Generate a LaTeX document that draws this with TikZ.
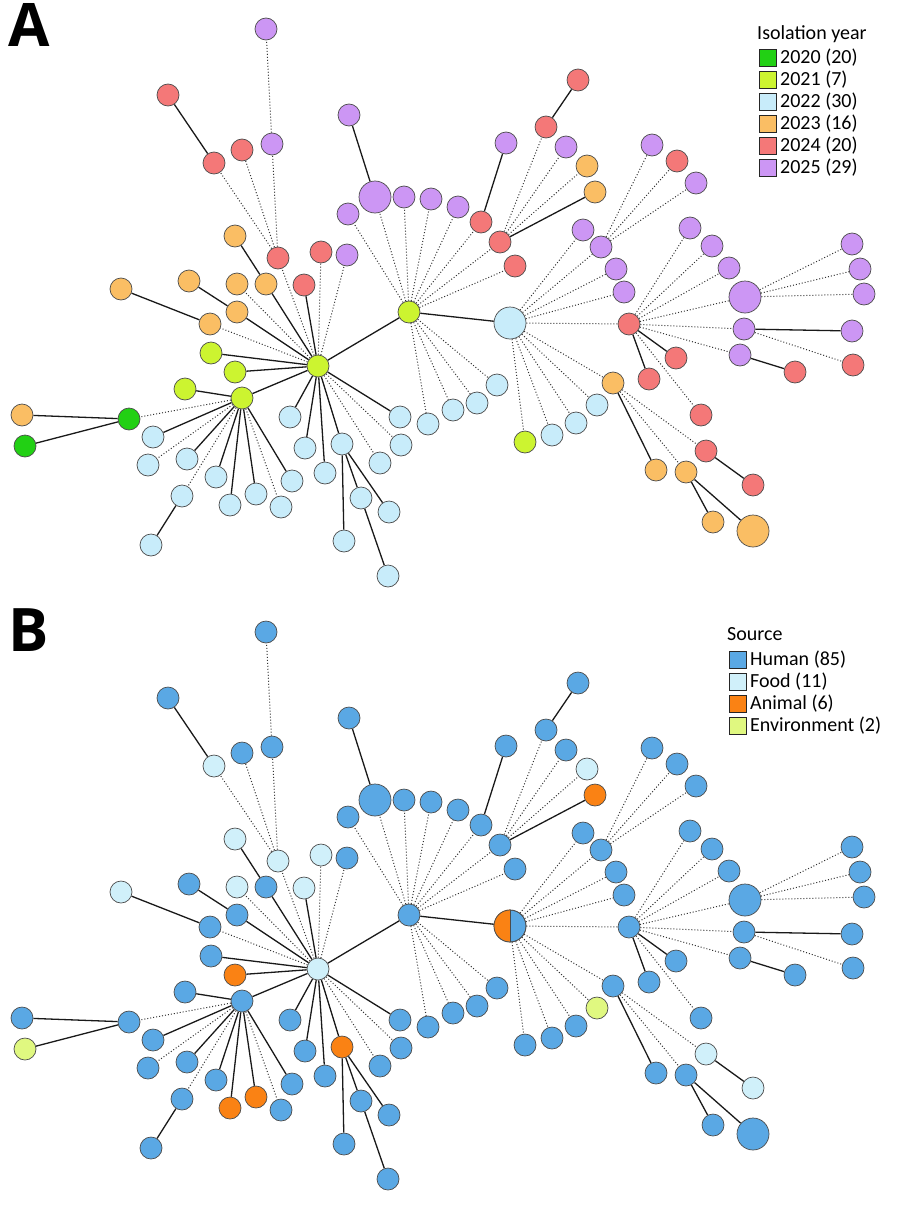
\documentclass[tikz,border=0pt]{standalone}
\usepackage{fontspec}
\setmainfont{Carlito}
\newfontfamily\panelfont{Open Sans}
\usetikzlibrary{backgrounds}
\definecolor{grn}{RGB}{34,208,20}
\definecolor{ygr}{RGB}{204,244,48}
\definecolor{lbl}{RGB}{200,236,250}
\definecolor{org}{RGB}{250,190,100}
\definecolor{red}{RGB}{244,120,120}
\definecolor{pur}{RGB}{204,150,244}
\definecolor{hum}{RGB}{90,168,228}
\definecolor{fod}{RGB}{208,240,250}
\definecolor{ani}{RGB}{250,130,20}
\definecolor{env}{RGB}{224,248,128}
\tikzset{
  dot/.style={circle, draw=black!70, line width=0.7pt, inner sep=0pt},
  s/.style={black!90, line width=1.3pt},
  d/.style={black!80, line width=1pt, dotted},
  key/.style={draw=black!85, line width=0.8pt, minimum size=17pt, inner sep=0pt, anchor=west},
  keytxt/.style={font=\fontsize{20}{22}\selectfont, anchor=west, inner sep=0pt},
  panel/.style={font=\panelfont\fontsize{60}{60}\selectfont\bfseries, anchor=north west, inner sep=0pt}
}
\begin{document}
\begin{tikzpicture}[x=1pt, y=-1pt]
  \useasboundingbox (0,0) rectangle (900,1207);
  \foreach \pn/\dy in {A/0,B/603} {
    % Knoten
    \foreach \n/\x/\y/\r/\ca/\cb in {
      h1/318/366/11/ygr/fod, h2/409/312/11/ygr/hum, h3/510/323/16/lbl/hum,
      h4/629/324/11/red/hum, h5/242/398/11/ygr/hum, h6/129/419/11/grn/hum,
      h7/613/383/11/org/hum,
      a1/22/415/11/org/hum, a2/25/446/11/grn/env, a3/185/389/11/ygr/hum,
      a4/153/437/11/lbl/hum, a5/148/465/11/lbl/hum, a6/187/459/11/lbl/hum,
      a7/182/496/11/lbl/hum, a8/151/545/11/lbl/hum, a9/216/477/11/lbl/hum,
      a10/230/505/11/lbl/ani, a11/256/494/11/lbl/ani, a12/281/507/11/lbl/hum,
      a13/292/481/11/lbl/hum, a14/211/353/11/ygr/hum, a15/235/372/11/ygr/ani,
      a16/210/324/11/org/hum, a17/121/289/11/org/fod, a18/237/312/11/org/hum,
      a19/189/281/11/org/hum, a20/237/284/11/org/fod, a21/266/284/11/org/hum,
      a22/235/236/11/org/fod, a23/304/285/11/red/fod, a24/278/258/11/red/fod,
      a25/321/252/11/red/fod, a26/347/255/11/pur/hum, a27/290/417/11/lbl/hum,
      a28/305/448/11/lbl/hum, a29/325/473/11/lbl/hum, a30/342/444/11/lbl/ani,
      a31/344/541/11/lbl/hum, a32/361/498/11/lbl/hum, a33/389/512/11/lbl/hum,
      a34/388/576/11/lbl/hum, a35/380/463/11/lbl/hum, a36/401/445/11/lbl/hum,
      a37/400/417/11/lbl/hum,
      b1/214/163/11/red/fod, b2/168/95/11/red/hum, b3/242/150/11/red/hum,
      b4/272/144/11/pur/hum, b5/266/29/11/pur/hum,
      c1/348/214/11/pur/hum, c2/375/197/16/pur/hum, c3/349/115/11/pur/hum,
      c4/404/197/11/pur/hum, c5/431/199/11/pur/hum, c6/458/207/11/pur/hum,
      c7/481/222/11/red/hum, c8/506/143/11/pur/hum, c9/500/242/11/red/hum,
      c10/546/127/11/red/hum, c11/578/80/11/red/hum, c12/566/147/11/pur/hum,
      c13/587/166/11/org/fod, c14/595/192/11/org/ani, c15/515/266/11/red/hum,
      c16/428/424/11/lbl/hum, c17/453/410/11/lbl/hum, c18/477/403/11/lbl/hum,
      c19/497/385/11/lbl/hum,
      d1/583/230/11/pur/hum, d2/601/247/11/pur/hum, d3/652/145/11/pur/hum,
      d4/677/161/11/red/hum, d5/696/183/11/pur/hum, d6/616/269/11/pur/hum,
      d7/624/292/11/pur/hum, d8/597/405/11/lbl/env, d9/576/423/11/lbl/hum,
      d10/552/435/11/lbl/hum, d11/525/442/11/ygr/hum,
      e1/690/228/11/pur/hum, e2/712/246/11/pur/hum, e3/729/268/11/pur/hum,
      e4/745/297/16/pur/hum, e5/852/244/11/pur/hum, e6/860/269/11/pur/hum,
      e7/864/294/11/pur/hum, e8/744/329/11/pur/hum, e9/852/331/11/pur/hum,
      e10/853/365/11/red/hum, e11/740/355/11/pur/hum, e12/795/372/11/red/hum,
      e13/676/358/11/red/hum, e14/649/379/11/red/hum, e15/701/415/11/red/hum,
      f1/656/470/11/org/hum, f2/686/472/11/org/hum, f3/713/522/11/org/hum,
      f4/753/531/16/org/hum, f5/706/451/11/red/fod, f6/753/485/11/red/fod} {
      \ifnum\dy=0 \def\c{\ca}\else\def\c{\cb}\fi
      \node[dot, fill=\c, minimum size=2*\r pt] (\pn-\n) at (\x,\y+\dy) {};
    }
    % Verbindungen
    \begin{pgfonlayer}{background}
      \foreach \u/\v/\st in {
        h1/h2/s, h2/h3/s, h3/h4/d, h1/h5/s, h5/h6/d, h3/h7/d,
        h6/a1/s, h6/a2/s, h5/a3/s, h5/a4/s, h5/a5/d, h5/a6/s, h5/a7/d,
        a7/a8/s, h5/a9/s, h5/a10/s, h5/a11/s, h5/a12/d, h5/a13/s,
        h1/a14/s, h1/a15/s, h1/a16/d, a16/a17/s, h1/a18/s, a18/a19/s,
        h1/a20/d, h1/a21/s, a21/a22/s, h1/a23/s, h1/a24/d, h1/a25/d,
        h1/a26/d, h1/a27/s, h1/a28/s, h1/a29/s, h1/a30/s, a30/a31/s,
        a30/a32/s, a30/a33/s, a32/a34/s, h1/a35/d, h1/a36/d, h1/a37/s,
        a24/b1/d, b1/b2/s, a24/b3/d, a24/b4/d, b4/b5/d,
        h2/c1/d, h2/c2/d, c2/c3/s, h2/c4/d, h2/c5/d, h2/c6/d, h2/c7/d,
        c7/c8/s, h2/c9/d, c9/c10/d, c10/c11/s, c9/c12/d, c9/c13/d,
        c9/c14/s, h2/c15/d, h2/c16/d, h2/c17/d, h2/c18/d, h2/c19/d,
        h3/d1/d, h3/d2/d, d2/d3/d, d2/d4/d, d2/d5/d, h3/d6/d, h3/d7/d,
        h3/d8/d, h3/d9/d, h3/d10/d, h3/d11/d,
        h4/e1/d, h4/e2/d, h4/e3/d, h4/e4/d, e4/e5/d, e4/e6/d, e4/e7/d,
        h4/e8/d, e8/e9/s, e8/e10/d, h4/e11/d, e11/e12/s, h4/e13/s,
        h4/e14/s, h4/e15/d,
        h7/f1/s, h7/f2/d, f2/f3/s, f2/f4/s, h7/f5/d, f5/f6/s}
        \draw[\st] (\pn-\u) -- (\pn-\v);
    \end{pgfonlayer}
  }
  % halb Tier, halb Mensch
  \fill[ani] (B-h3.north) arc[start angle=90, end angle=270, radius=16pt] -- cycle;
  \draw[black!70, line width=0.7pt] (B-h3.center) circle (16pt);
  \draw[black!70, line width=0.7pt] (B-h3.north) -- (B-h3.south);

  % Beschriftung
  \node[panel] (lblA) at (8,3) {A};
  \node[panel] (lblB) at (8,608) {B};

  \node[keytxt] (ttlA) at (757,34) {Isolation year};
  \foreach \c/\t [count=\i] in {grn/2020 (20), ygr/2021 (7), lbl/2022 (30),
      org/2023 (16), red/2024 (20), pur/2025 (29)} {
    \node[key, fill=\c] (kA\i) at (759,36+22*\i) {};
    \node[keytxt] (tA\i) at (780,36+22*\i) {\t};
  }
  \node[keytxt] (ttlB) at (727,634) {Source};
  \foreach \c/\t [count=\i] in {hum/Human (85), fod/Food (11),
      ani/Animal (6), env/Environment (2)} {
    \node[key, fill=\c] (kB\i) at (729,638+22*\i) {};
    \node[keytxt] (tB\i) at (750,638+22*\i) {\t};
  }
\end{tikzpicture}
\end{document}
